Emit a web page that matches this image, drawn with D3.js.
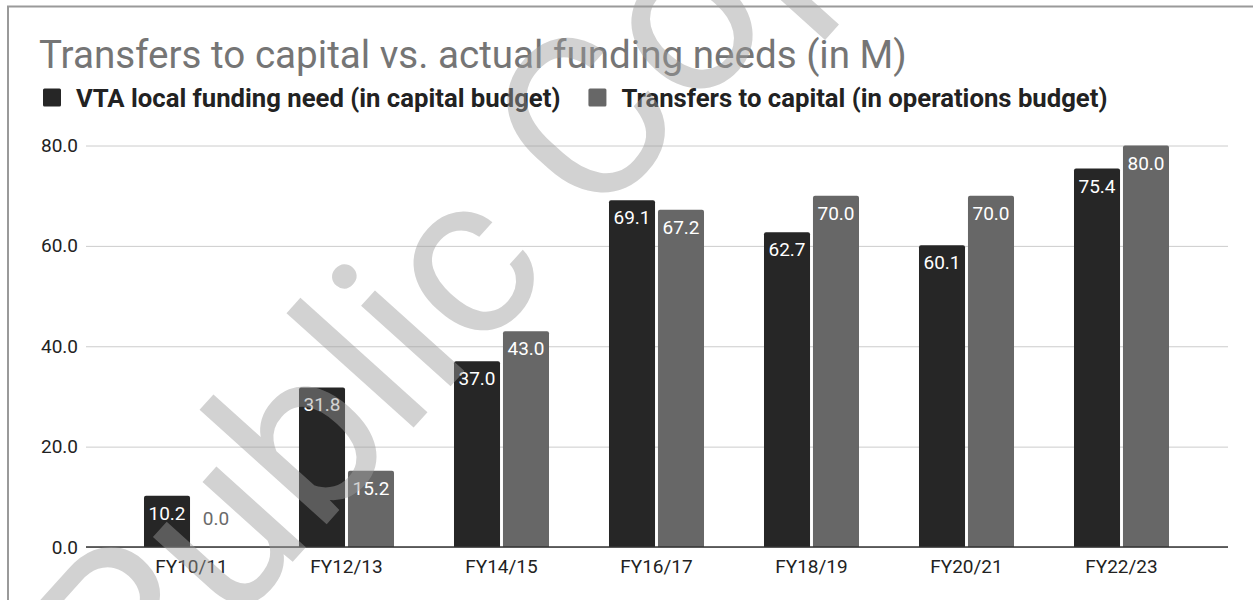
<!DOCTYPE html>
<html>
<head>
<meta charset="utf-8">
<script src="https://cdn.jsdelivr.net/npm/d3@7"></script>
<style>
body { margin: 0; background: #fff; }
svg { display: block; font-family: Roboto, "Noto Sans", Arial, sans-serif; }
</style>
</head>
<body>
<div id="chart"></div>
<script>
// data
const categories = ["FY10/11", "FY12/13", "FY14/15", "FY16/17", "FY18/19", "FY20/21", "FY22/23"];
const localNeed = [10.2, 31.8, 37.0, 69.1, 62.7, 60.1, 75.4];
const transfers = [0.0, 15.2, 43.0, 67.2, 70.0, 70.0, 80.0];
const seriesNames = ["VTA local funding need (in capital budget)", "Transfers to capital (in operations budget)"];
const yTicks = [0, 20, 40, 60, 80];
const titleText = "Transfers to capital vs. actual funding needs (in M)";
const watermarkText = "Public Copy";

const colors = ["#262626", "#676767"];
const width = 1253, height = 600;

const svg = d3.select("#chart").append("svg")
    .attr("width", width)
    .attr("height", height);

// frame
svg.append("rect")
    .attr("x", 8).attr("y", 6.5)
    .attr("width", 1300).attr("height", 700)
    .attr("fill", "none")
    .attr("stroke", "#9a9a9a")
    .attr("stroke-width", 2);

// title
svg.append("text")
    .attr("x", 39).attr("y", 67.5)
    .attr("font-size", 38.6)
    .attr("fill", "#757575")
    .text(titleText);

// legend
let lx = 43;
seriesNames.forEach(function(name, i) {
    svg.append("rect")
        .attr("x", lx).attr("y", 88.5)
        .attr("width", 18).attr("height", 18)
        .attr("rx", 1.5)
        .attr("fill", colors[i]);
    let t = svg.append("text")
        .attr("x", lx + 33).attr("y", 107)
        .attr("font-size", 25.7)
        .attr("font-weight", 700)
        .attr("fill", "#222")
        .text(name);
    lx = lx + 33 + t.node().getComputedTextLength() + 28;
});

// scales
const plotLeft = 86, plotRight = 1228;
const y = d3.scaleLinear().domain([0, 80]).range([547, 145.5]);
const x = d3.scaleBand()
    .domain(categories)
    .range([114, 1199])
    .paddingInner(0.387)
    .paddingOuter(0.1935);
const x1 = d3.scaleBand()
    .domain([0, 1])
    .range([0, x.bandwidth()])
    .paddingInner(0.06);

// y axis + grid
const yAxis = d3.axisLeft(y)
    .tickValues(yTicks)
    .tickFormat(d3.format(".1f"))
    .tickSize(-(plotRight - plotLeft))
    .tickPadding(8);
const gy = svg.append("g")
    .attr("transform", `translate(${plotLeft},0)`)
    .call(yAxis);
gy.select(".domain").remove();
gy.selectAll(".tick line").attr("stroke", "#cccccc");
gy.selectAll(".tick text")
    .attr("font-size", 19)
    .attr("fill", "#222")
    .attr("font-family", "Roboto, Arial, sans-serif");

// bars, rounded on top only
function barPath(bx, by, bw, bh, r) {
    r = Math.min(r, bh, bw / 2);
    return `M${bx},${by + bh}V${by + r}Q${bx},${by} ${bx + r},${by}H${bx + bw - r}Q${bx + bw},${by} ${bx + bw},${by + r}V${by + bh}Z`;
}

const rows = categories.map(function(c, i) {
    return { name: c, values: [localNeed[i], transfers[i]] };
});

const groups = svg.append("g").selectAll(".group")
    .data(rows)
    .enter().append("g")
    .attr("transform", function(d) { return `translate(${x(d.name)},0)`; });

groups.selectAll("path")
    .data(function(d) { return d.values.map(function(v, k) { return { v: v, k: k }; }); })
    .enter().append("path")
    .filter(function(d) { return d.v > 0; })
    .attr("d", function(d) {
        return barPath(x1(d.k), y(d.v), x1.bandwidth(), y(0) - y(d.v), 2);
    })
    .attr("fill", function(d) { return colors[d.k]; });

groups.selectAll(".lbl")
    .data(function(d) { return d.values.map(function(v, k) { return { v: v, k: k }; }); })
    .enter().append("text")
    .attr("class", "lbl")
    .attr("x", function(d) { return x1(d.k) + x1.bandwidth() / 2; })
    .attr("y", function(d) {
        let inside = y(0) - y(d.v) > 30;
        return inside ? y(d.v) + 24 : y(d.v) - 22;
    })
    .attr("text-anchor", "middle")
    .attr("font-size", 19)
    .attr("fill", function(d) { return y(0) - y(d.v) > 30 ? "#fff" : "#6a6a6a"; })
    .text(function(d) { return d3.format(".1f")(d.v); });

// baseline
svg.append("line")
    .attr("x1", plotLeft).attr("x2", plotRight)
    .attr("y1", y(0)).attr("y2", y(0))
    .attr("stroke", "#333")
    .attr("stroke-width", 1.5);

// x axis
const xAxis = d3.axisBottom(x).tickSize(0).tickPadding(13);
const gx = svg.append("g")
    .attr("transform", `translate(0,${y(0)})`)
    .call(xAxis);
gx.select(".domain").remove();
gx.selectAll(".tick text")
    .attr("font-size", 19)
    .attr("fill", "#222")
    .attr("font-family", "Roboto, Arial, sans-serif");

// watermark over everything
svg.append("text")
    .attr("transform", "translate(136,736) rotate(-48)")
    .attr("font-size", 228)
    .attr("fill", "#9c9c9c")
    .attr("opacity", 0.45)
    .text(watermarkText);
</script>
</body>
</html>
